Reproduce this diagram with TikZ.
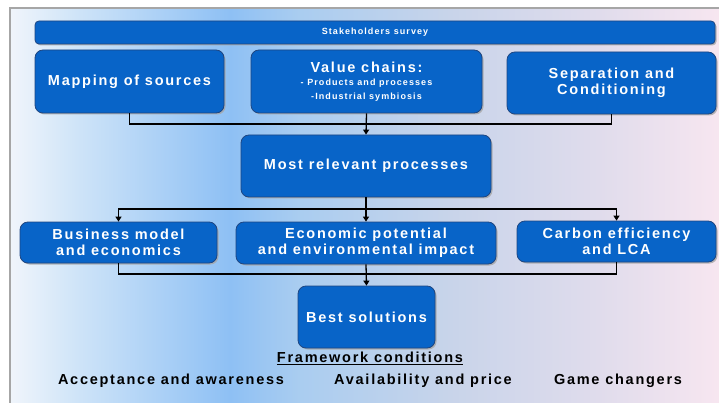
\documentclass[tikz,border=0pt]{standalone}
\usepackage{fontspec}
\setmainfont{Liberation Sans}[LetterSpace=12]
\usepackage{tikz}
\usetikzlibrary{arrows.meta}
\usetikzlibrary{shadows}

\definecolor{boxblue}{RGB}{8,100,200}
\definecolor{boxedge}{RGB}{30,70,130}
\definecolor{bgA}{RGB}{240,245,251}
\definecolor{bgB}{RGB}{205,227,248}
\definecolor{bgC}{RGB}{142,192,244}
\definecolor{bgD}{RGB}{170,205,240}
\definecolor{bgE}{RGB}{200,212,234}
\definecolor{bgF}{RGB}{224,220,236}
\definecolor{bgG}{RGB}{247,230,240}

\pgfdeclarehorizontalshading{bgshade}{100bp}{color(0bp)=(bgA); color(25bp)=(bgA);
  color(30bp)=(bgB); color(40.5bp)=(bgC); color(45.5bp)=(bgD); color(56bp)=(bgE);
  color(66.5bp)=(bgF); color(75bp)=(bgG); color(100bp)=(bgG)}

\tikzset{
  block/.style={draw=boxedge, fill=boxblue, rounded corners=8pt, text=white,
    align=center, inner sep=0pt, line width=0.8pt,
    drop shadow={shadow xshift=1.5pt, shadow yshift=-1.5pt, fill=gray!70, opacity=0.8},
    font=\fontsize{14.5}{16}\selectfont\bfseries},
  bar/.style={block, rounded corners=4pt, font=\fontsize{9}{10}\selectfont\bfseries},
  link/.style={draw=black, line width=1.3pt},
  note/.style={font=\fontsize{14.5}{16}\selectfont\bfseries, inner sep=0pt}
}

\begin{document}
\begin{tikzpicture}[x=1pt, y=-1pt,
      >={Triangle[length=5pt, width=6pt]}]

    \useasboundingbox (0,0) rectangle (719,403);
    % backdrop
    \shade[shading=bgshade] (10,8) rectangle (719,403);
    \draw[gray!70, line width=1.5pt] (10,403) -- (10,8) -- (719,8);

    \node[bar, minimum width=680, minimum height=23]
      (survey) at (375,32.5) {Stakeholders survey};

    \node[block, minimum width=189, minimum height=63]
      (map) at (129.5,81.5) {Mapping of sources};
    \node[block, minimum width=231, minimum height=63]
      (value) at (366.5,81.5) {Value chains:\\[-3pt]
        {\fontsize{9}{10}\selectfont - Products and processes}\\[-2pt]
        {\fontsize{9}{10}\selectfont -Industrial symbiosis}};
    \node[block, minimum width=209, minimum height=62]
      (sep) at (611.5,83) {Separation and\\Conditioning};

    \node[block, minimum width=250, minimum height=62]
      (relevant) at (366,166) {Most relevant processes};

    \node[block, minimum width=197, minimum height=41]
      (business) at (118.5,242.5) {Business model\\and economics};
    \node[block, minimum width=260, minimum height=42]
      (economic) at (366,243) {Economic potential\\and environmental impact};
    \node[block, minimum width=199, minimum height=41]
      (carbon) at (616.5,241.5) {Carbon efficiency\\and LCA};

    \node[block, minimum width=137, minimum height=62]
      (best) at (366.5,317) {Best solutions};

    \node[note] (framework) at (370,358) {\underline{Framework conditions}};
    \node[note] (acceptance) at (171,381) {Acceptance and awareness};
    \node[note] (availability) at (423,381) {Availability and price};
    \node[note] (changers) at (618,381) {Game changers};

    \coordinate (jtop) at (366,124);
    \coordinate (jmid) at (366,209);
    \coordinate (jbot) at (366,274);

    \path[link]
      (map.south) |- (jtop) -| (sep.south);
    \draw[link, ->] (value.south) -- (relevant.north);
    \draw[link] (relevant.south) -- (jmid);
    \draw[link, ->] (jmid) -| (business.north);
    \draw[link, ->] (jmid) -| (carbon.north);
    \draw[link, ->] (jmid) -- (economic.north);
    \path[link]
      (business.south) |- (jbot) -| (carbon.south);
    \draw[link, ->] (economic.south) -- (best.north);

  \end{tikzpicture}
\end{document}
